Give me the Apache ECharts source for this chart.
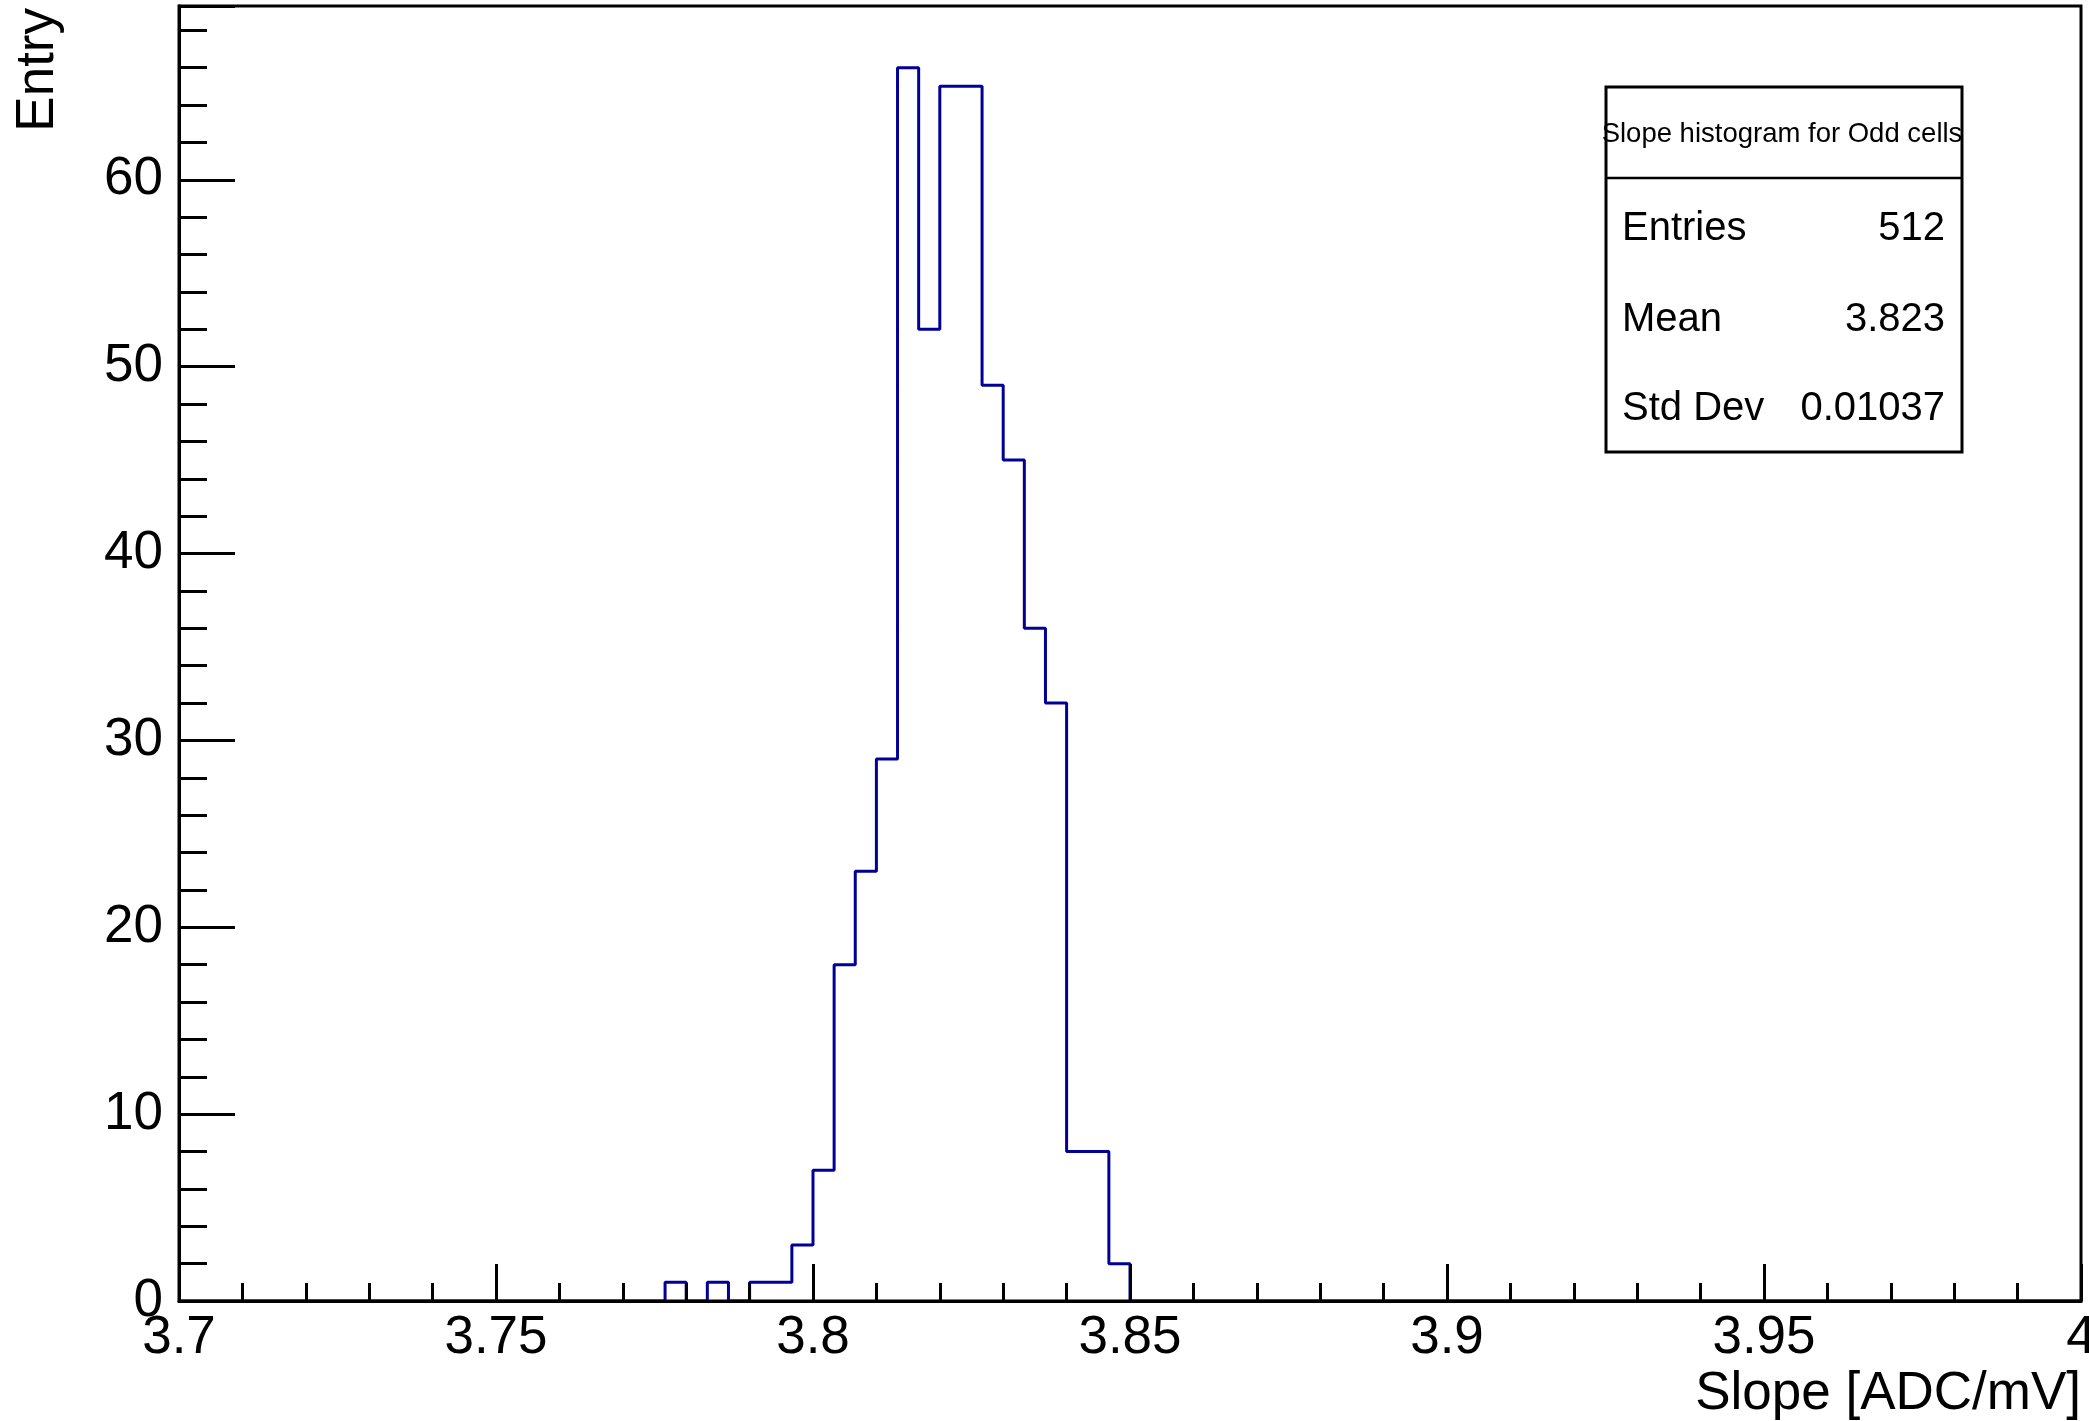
<!DOCTYPE html>
<html>
<head>
<meta charset="utf-8">
<script src="https://cdn.jsdelivr.net/npm/echarts@6/dist/echarts.min.js"></script>
<style>
html,body{margin:0;padding:0;background:#fff;overflow:hidden;}
#chart{width:2089px;height:1421px;}
</style>
</head>
<body>
<div id="chart"></div>
<script>
// ---- data ----
const binMin = 3.7;
const binMax = 4.0;
const nBins = 90;
// counts per bin (bin index -> entries), all other bins are 0
const nonZeroBins = [23, 25, 27, 28, 29, 30, 31, 32, 33, 34, 35, 36, 37, 38, 39, 40, 41, 42, 43, 44];
const nonZeroCounts = [1, 1, 1, 1, 3, 7, 18, 23, 29, 66, 52, 65, 65, 49, 45, 36, 32, 8, 8, 2];
const xTickLabels = ['3.7', '3.75', '3.8', '3.85', '3.9', '3.95', '4'];
const yTickLabels = ['0', '10', '20', '30', '40', '50', '60'];
const xTitle = 'Slope [ADC/mV]';
const yTitle = 'Entry';
const statsTitle = 'Slope histogram for Odd cells';
const statLabels = ['Entries', 'Mean', 'Std Dev'];
const statValues = ['512', '3.823', '0.01037'];

// ---- build histogram outline ----
const counts = new Array(nBins).fill(0);
nonZeroBins.forEach((b, i) => { counts[b] = nonZeroCounts[i]; });
const binW = (binMax - binMin) / nBins;
const stepData = [];
for (let i = 0; i < nBins; i++) stepData.push([binMin + i * binW, counts[i]]);
stepData.push([binMax, counts[nBins - 1]]);
const yMax = Math.max(...counts) * 1.05;

const FONT = 'Liberation Sans, Arial, Helvetica, sans-serif';
const chart = echarts.init(document.getElementById('chart'));

const L = 179, R = 2081, T = 6, B = 1301;
const box = {x1: 1606, x2: 1962, y1: 87, y2: 452, div: 178};
const rowY = [229, 320, 409];

const graphics = [
  {type: 'text', x: 38, y: 8, rotation: Math.PI / 2, z: 20,
   style: {text: yTitle, font: '53px ' + FONT, fill: '#000', textAlign: 'right', textVerticalAlign: 'middle'}},
  {type: 'text', x: R, y: 1394, z: 20,
   style: {text: xTitle, font: '53px ' + FONT, fill: '#000', textAlign: 'right', textVerticalAlign: 'middle'}},
  {type: 'rect', shape: {x: box.x1, y: box.y1, width: box.x2 - box.x1, height: box.y2 - box.y1}, z: 20,
   style: {fill: '#fff', stroke: '#000', lineWidth: 3}},
  {type: 'line', shape: {x1: box.x1, y1: box.div, x2: box.x2, y2: box.div}, z: 21,
   style: {stroke: '#000', lineWidth: 2.5}},
  {type: 'text', x: (box.x1 + box.x2) / 2 - 2, y: 134, z: 22,
   style: {text: statsTitle, font: '27.5px ' + FONT, fill: '#000', textAlign: 'center', textVerticalAlign: 'middle'}}
];
statLabels.forEach((s, i) => {
  graphics.push({type: 'text', x: 1622, y: rowY[i], z: 22,
    style: {text: s, font: '40px ' + FONT, fill: '#000', textAlign: 'left', textVerticalAlign: 'middle'}});
  graphics.push({type: 'text', x: 1945, y: rowY[i], z: 22,
    style: {text: statValues[i], font: '40px ' + FONT, fill: '#000', textAlign: 'right', textVerticalAlign: 'middle'}});
});

const fmtX = v => {
  const idx = Math.round((v - binMin) / 0.05);
  return (Math.abs(v - (binMin + idx * 0.05)) < 1e-6 && xTickLabels[idx] !== undefined) ? xTickLabels[idx] : '';
};
const fmtY = v => {
  const idx = Math.round(v / 10);
  return (Math.abs(v - idx * 10) < 1e-6 && yTickLabels[idx] !== undefined) ? yTickLabels[idx] : '';
};

chart.setOption({
  animation: false,
  backgroundColor: '#fff',
  grid: {left: L, right: 2089 - R, top: T, bottom: 1421 - B, show: true, borderColor: '#000', borderWidth: 3,
         containLabel: false, outerBoundsMode: 'none'},
  xAxis: {
    type: 'value', min: binMin, max: binMax, interval: 0.05, z: 5,
    axisLine: {show: true, onZero: false, lineStyle: {color: '#000', width: 3}},
    axisTick: {show: true, inside: true, length: 37, lineStyle: {color: '#000', width: 3}},
    minorTick: {show: true, splitNumber: 5, length: 18, lineStyle: {color: '#000', width: 3}},
    splitLine: {show: false},
    axisLabel: {show: true, color: '#000', fontSize: 53, fontFamily: FONT, margin: 11, formatter: fmtX, showMinLabel: true, showMaxLabel: true, hideOverlap: false}
  },
  yAxis: [
    {
      type: 'value', min: 0, max: yMax, interval: 10, position: 'left', z: 5,
      axisLine: {show: true, onZero: false, lineStyle: {color: '#000', width: 3}},
      axisTick: {show: true, inside: true, length: 56, lineStyle: {color: '#000', width: 3}},
      splitLine: {show: false},
      axisLabel: {show: true, color: '#000', fontSize: 53, fontFamily: FONT, margin: 16, padding: [6, 0, 0, 0], formatter: fmtY}
    },
    {
      type: 'value', min: 0, max: yMax, interval: 2, position: 'left', offset: 0, z: 5,
      axisLine: {show: true, onZero: false, lineStyle: {color: '#000', width: 3}},
      axisTick: {show: true, inside: true, length: 28, lineStyle: {color: '#000', width: 3}},
      splitLine: {show: false},
      axisLabel: {show: false}
    }
  ],
  series: [{
    type: 'line', step: 'end', data: stepData, yAxisIndex: 0,
    showSymbol: false, symbol: 'none', z: 2,
    lineStyle: {color: '#000099', width: 3}
  }],
  graphic: graphics
});
</script>
</body>
</html>
